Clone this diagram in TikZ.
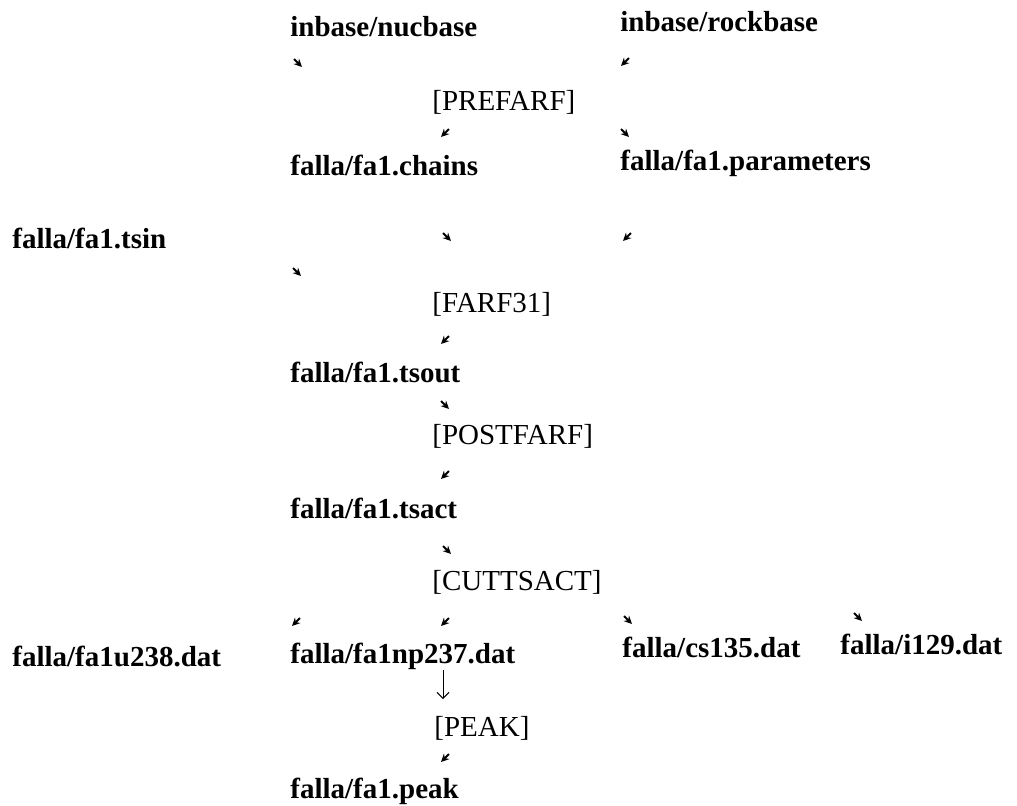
\documentclass[tikz,border=0pt]{standalone}
\usepackage{fontspec}
\setmainfont{Liberation Serif}
\usetikzlibrary{arrows.meta}
\tikzset{
  datafile/.style={anchor=west,inner sep=0pt,text height=10pt,text depth=0pt,
                   font=\fontsize{14.5}{17}\selectfont\bfseries},
  prog/.style={datafile,font=\fontsize{14.5}{17}\selectfont},
  tickarr/.style={line width=0.95pt,-{Stealth[length=4pt,width=3.8pt]}},
  downarr/.style={line width=0.5pt,-{Straight Barb[length=3pt,width=6pt]}},
  searr/.pic={\draw[tickarr] (-4,-4) -- (4,4);},
  swarr/.pic={\draw[tickarr] (4,-4) -- (-4,4);},
}

\begin{document}
\begin{tikzpicture}[x=0.5pt, y=-0.5pt]
\useasboundingbox (0,0) rectangle (1017,805);

% =================================================================
% PREFARF -- data bases into chain and parameter files
% =================================================================
\node[datafile] (nucbase)  at (290, 26)  {inbase/nucbase};
\node[datafile] (rockbase) at (620, 21)  {inbase/rockbase};
\node[prog]     (prefarf)  at (432, 100) {[PREFARF]};
\node[datafile] (chains)   at (290, 165) {falla/fa1.chains};
\node[datafile] (params)   at (620, 160) {falla/fa1.parameters};

% =================================================================
% FARF31 / POSTFARF / CUTTSACT -- main chain
% =================================================================
\node[datafile] (tsin)     at (12, 238)  {falla/fa1.tsin};
\node[prog]     (farf)     at (432, 302) {[FARF31]};
\node[datafile] (tsout)    at (290, 372) {falla/fa1.tsout};
\node[prog]     (postfarf) at (432, 434) {[POSTFARF]};
\node[datafile] (tsact)    at (290, 508) {falla/fa1.tsact};
\node[prog]     (cuttsact) at (432, 580) {[CUTTSACT]};

% =================================================================
% nuclide files and PEAK
% =================================================================
\node[datafile] (u238)     at (12, 656)  {falla/fa1u238.dat};
\node[datafile] (np237)    at (290, 653) {falla/fa1np237.dat};
\node[datafile] (cs135)    at (622, 647) {falla/cs135.dat};
\node[datafile] (i129)     at (840, 644) {falla/i129.dat};
\node[prog]     (peak)     at (434, 726) {[PEAK]};
\node[datafile] (fpeak)    at (290, 788) {falla/fa1.peak};

% small slanted arrows
\foreach \x/\y in {298/63, 625/133, 447/237, 297/272, 445/405, 447/550, 628/620, 858/617}
  \pic at (\x,\y) {searr};
\foreach \x/\y in {625/62, 445/133, 627/237, 445/340, 445/475, 296/622, 445/622, 445/758}
  \pic at (\x,\y) {swarr};

% np237 down to PEAK
\coordinate (dtop) at (443, 670);
\coordinate (dbot) at (443, 699);
\draw[downarr] (dtop) -- (dbot);

\end{tikzpicture}
\end{document}
